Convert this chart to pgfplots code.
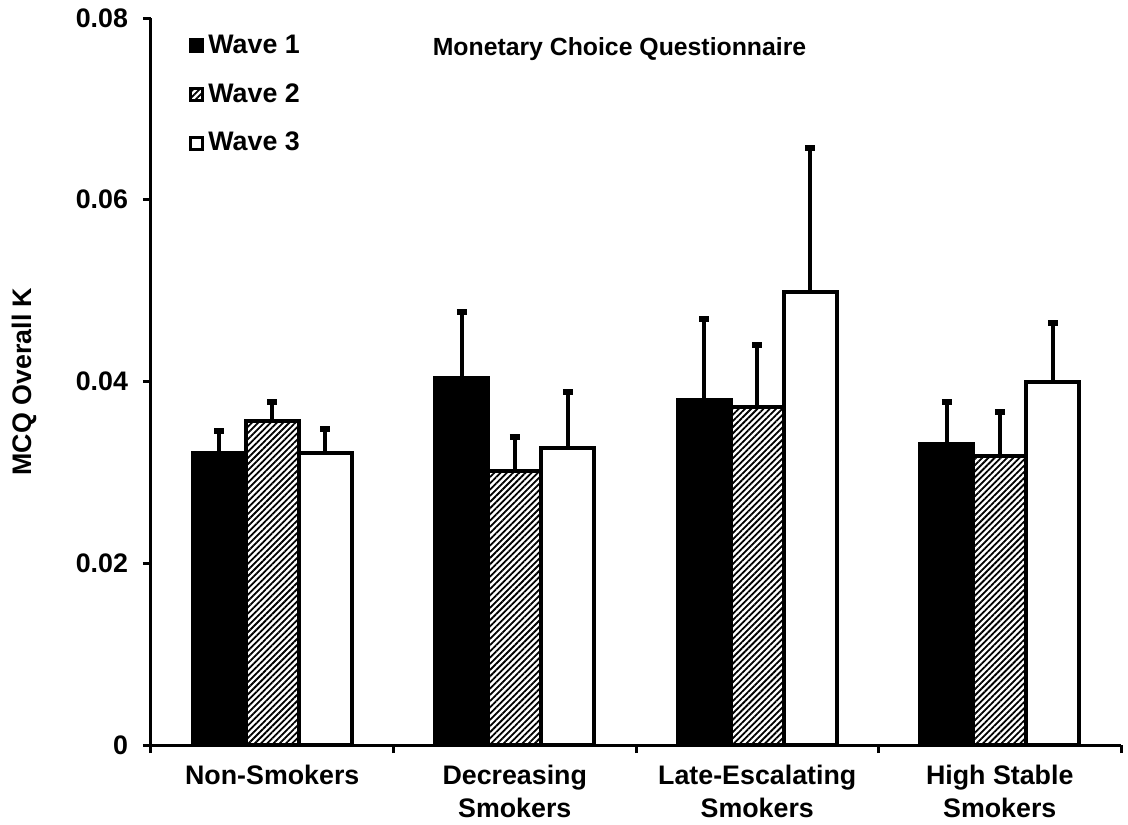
\documentclass[border=0pt]{standalone}
\usepackage{fontspec}
\setmainfont{Liberation Sans}
\usepackage{pgfplots}
\pgfplotsset{compat=1.18}
\usetikzlibrary{patterns.meta}

% MCQ overall K by smoking trajectory group, waves 1-3 (upward SE bars only)
\begin{document}
\begin{tikzpicture}
\useasboundingbox (-75.5pt,-39.5pt) rectangle (488.5pt,372.5pt);
\begin{axis}[
    at={(0pt,0pt)}, anchor=south west,
    scale only axis,
    width=485pt, height=363.5pt,
    font=\fontsize{13.4}{16.5}\selectfont\bfseries,
    ybar=0pt, bar width=26.5pt,
    xmin=-0.5, xmax=3.5,
    ymin=0, ymax=0.08,
    axis lines*=left,
    axis line style={line width=1.5pt, -},
    tick style={line width=1.5pt, black},
    tick align=outside,
    major tick length=4pt,
    xtick={-0.5,0.5,1.5,2.5,3.5}, xticklabels={},
    extra x ticks={0,1,2,3},
    extra x tick labels={Non-Smokers, Decreasing\\Smokers, Late-Escalating\\Smokers, High Stable\\Smokers},
    extra x tick style={major tick length=0pt,
        xticklabel style={align=center, yshift=-6.5pt}},
    ytick={0,0.02,0.04,0.06,0.08},
    yticklabels={0,0.02,0.04,0.06,0.08},
    yticklabel style={xshift=-4pt},
    scaled y ticks=false,
    ylabel={MCQ Overall K},
    ylabel style={at={(axis description cs:-0.131,0.5)}, anchor=center},
    legend style={draw=none, fill=none, at={(axis description cs:0.033,0.988)},
        anchor=north west, row sep=9.5pt, font=\fontsize{13.4}{16.5}\selectfont\bfseries,
        cells={anchor=west}},
    legend image code/.code={\draw[#1, line width=1.5pt] (0pt,-3pt) rectangle (6pt,3pt);},
    error bars/y dir=plus, error bars/y explicit,
    error bars/error bar style={line width=2pt, black},
    error bars/error mark options={rotate=90, mark size=2.5pt, line width=3pt, black},
]
\addplot[draw=black, line width=2pt, fill=black] coordinates {
    (0,0.0321) +- (0,0.0025)
    (1,0.0404) +- (0,0.0073)
    (2,0.0380) +- (0,0.0089)
    (3,0.0331) +- (0,0.0047)
};
\addplot[draw=black, line width=2pt, fill=white,
    pattern={Lines[angle=45, distance=2.2pt, line width=0.9pt]}, pattern color=black] coordinates {
    (0,0.0356) +- (0,0.0022)
    (1,0.0301) +- (0,0.0038)
    (2,0.0372) +- (0,0.0068)
    (3,0.0318) +- (0,0.0048)
};
\addplot[draw=black, line width=2pt, fill=white] coordinates {
    (0,0.0321) +- (0,0.0027)
    (1,0.0327) +- (0,0.0062)
    (2,0.0499) +- (0,0.0158)
    (3,0.0399) +- (0,0.0065)
};
\legend{Wave 1, Wave 2, Wave 3}
\node[font=\fontsize{12.4}{15}\selectfont\bfseries] at (axis description cs:0.483,0.957) {Monetary Choice Questionnaire};
\end{axis}
\end{tikzpicture}
\end{document}
